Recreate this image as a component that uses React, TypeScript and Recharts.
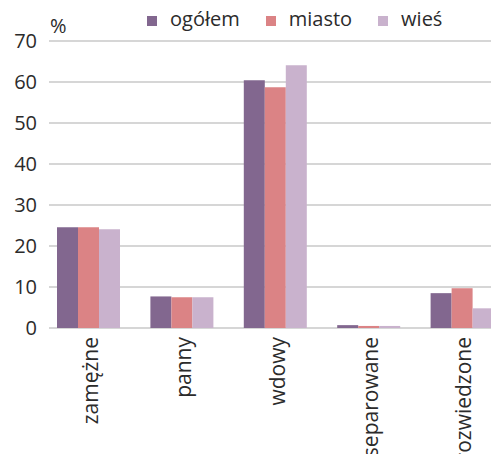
import React from "react";
import {
  BarChart,
  Bar,
  XAxis,
  YAxis,
  CartesianGrid,
  Legend,
} from "recharts";

const categories = ["zamężne", "panny", "wdowy", "separowane", "rozwiedzone"];
const ogolem = [24.6, 7.7, 60.4, 0.7, 8.5];
const miasto = [24.6, 7.5, 58.7, 0.5, 9.7];
const wies = [24.1, 7.5, 64.1, 0.5, 4.8];
const yTicks = [0, 10, 20, 30, 40, 50, 60, 70];
const seriesOrder = ["ogolem", "miasto", "wies"];

const COLORS = {
  ogolem: "#82678f",
  miasto: "#db8385",
  wies: "#c9b2cd",
};

const FONT = "'Open Sans', sans-serif";
const TEXT = "#2b2b2b";

const data = categories.map((name, i) => ({
  name,
  ogolem: ogolem[i],
  miasto: miasto[i],
  wies: wies[i],
}));

const CategoryTick = (props: any) => {
  const { x, y, payload } = props;
  return (
    <g transform={`translate(${x},${y})`}>
      <text
        x={0}
        y={9}
        transform="rotate(-90)"
        textAnchor="end"
        fontSize={21}
        fontFamily={FONT}
        fill={TEXT}
      >
        {payload.value}
      </text>
    </g>
  );
};

const PercentLabel = (props: any) => {
  const { viewBox } = props;
  return (
    <text
      x={viewBox.x + viewBox.width + 8}
      y={viewBox.y - 8}
      fontSize={20}
      fontFamily={FONT}
      fill={TEXT}
    >
      %
    </text>
  );
};

const LegendContent = (props: any) => {
  const { payload } = props;
  const items = [...payload].sort(
    (a: any, b: any) => seriesOrder.indexOf(a.dataKey) - seriesOrder.indexOf(b.dataKey)
  );
  return (
    <div style={{ display: "flex", fontFamily: FONT, fontSize: 20, lineHeight: "20px", color: TEXT, whiteSpace: "nowrap" }}>
      {items.map((p: any) => (
        <div key={p.value} style={{ display: "flex", alignItems: "flex-start", marginRight: 26 }}>
          <span
            style={{
              display: "inline-block",
              width: 10,
              height: 10,
              background: p.color,
              marginTop: 7,
              marginRight: 13,
            }}
          />
          <span>{p.value}</span>
        </div>
      ))}
    </div>
  );
};

export default function App() {
  return (
    <div
      style={{
        position: "absolute",
        left: 0,
        top: 0,
        width: 491,
        height: 454,
        overflow: "hidden",
        background: "#fff",
      }}
    >
      <BarChart
        width={509}
        height={454}
        data={data}
        margin={{ top: 41, right: 0, bottom: 0, left: 0 }}
        barGap={0}
      >
        <CartesianGrid
          vertical={false}
          stroke="#c8c8c8"
          strokeWidth={1.6}
          x={49}
          width={460}
        />
        <XAxis
          dataKey="name"
          axisLine={false}
          tickLine={false}
          tickSize={0}
          tickMargin={9}
          height={126}
          interval={0}
          tick={<CategoryTick />}
        />
        <YAxis
          width={42}
          domain={[0, 70]}
          ticks={yTicks}
          axisLine={false}
          tickLine={false}
          tickSize={0}
          tickMargin={5}
          tick={{ fontSize: 20, fontFamily: FONT, fill: TEXT }}
          label={<PercentLabel />}
        />
        <Legend
          layout="horizontal"
          verticalAlign="middle"
          align="center"
          wrapperStyle={{ top: 9, left: 147, width: "auto" }}
          content={<LegendContent />}
        />
        <Bar dataKey="ogolem" name="ogółem" fill={COLORS.ogolem} barSize={21} isAnimationActive={false} />
        <Bar dataKey="miasto" name="miasto" fill={COLORS.miasto} barSize={21} isAnimationActive={false} />
        <Bar dataKey="wies" name="wieś" fill={COLORS.wies} barSize={21} isAnimationActive={false} />
      </BarChart>
    </div>
  );
}
